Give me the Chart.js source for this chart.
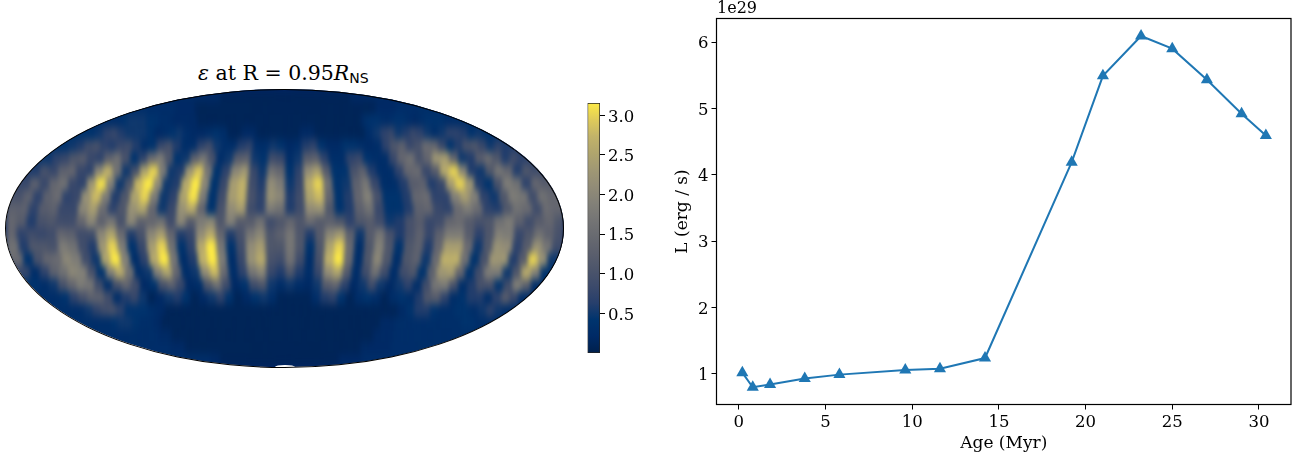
<!DOCTYPE html>
<html>
<head>
<meta charset="utf-8">
<script src="https://cdn.jsdelivr.net/npm/chart.js@4"></script>
<style>
    html, body { margin: 0; padding: 0; background: #fff; width: 1304px; height: 462px; overflow: hidden; }
    canvas { position: absolute; display: block; }
    .txt { position: absolute; font-family: "DejaVu Serif", serif; color: #000; white-space: nowrap; }
    #mapa { position: absolute; left: 5.5px; top: 89px; width: 558px; height: 278px; border-radius: 50%; overflow: hidden; background: #00246a; }
    #mapaCanvas { left: 0; top: 0; filter: url(#suave); }
    #agujero { position: absolute; left: 275px; top: 364.5px; width: 20px; height: 4px; border-radius: 50%; background: #fff; }
    #borde { position: absolute; left: 5px; top: 88.5px; width: 557px; height: 277px; border: 1px solid #000; border-radius: 50%; }
    #titulo { left: 198px; top: 61px; font-size: 20.5px; }
    #titulo sub { font-family: "DejaVu Sans", sans-serif; font-size: 14px; vertical-align: -3px; line-height: 0; }
    #potencia { left: 717px; top: -2px; font-size: 16px; }
</style>
</head>
<body>
<svg width="0" height="0" style="position:absolute">
    <filter id="suave" x="-5%" y="-5%" width="110%" height="110%" color-interpolation-filters="sRGB">
        <feGaussianBlur stdDeviation="2 4.5"/>
    </filter>
</svg>
<div id="mapa"><canvas id="mapaCanvas" width="558" height="278"></canvas></div>
<div id="agujero"></div>
<div id="borde"></div>
<div id="titulo" class="txt"><i>ε</i> at R = 0.95<i>R</i><sub>NS</sub></div>
<canvas id="barraCanvas" width="70" height="462" style="left:580px;top:0"></canvas>
<canvas id="lineaCanvas" width="652" height="462" style="left:652px;top:0"></canvas>
<div id="potencia" class="txt">1e29</div>

<script>
// Luminosity curve (right panel)
const ages = [0.2, 0.8, 1.8, 3.8, 5.8, 9.6, 11.6, 14.2, 19.2, 21, 23.2, 25, 27, 29, 30.4];
const luminosity = [1.02, 0.80, 0.84, 0.93, 0.99, 1.06, 1.08, 1.24, 4.19, 5.49, 6.09, 5.90, 5.43, 4.92, 4.59];
const ageTicks = [0, 5, 10, 15, 20, 25, 30];
const lumTicks = [1, 2, 3, 4, 5, 6];
const colorbarTicks = [0.5, 1.0, 1.5, 2.0, 2.5, 3.0];
const colorbarRange = [0, 3.155];

// cividis
const cividis = ["#00204c", "#002a66", "#00346e", "#273f6c", "#3c4a6b", "#4c556b", "#5b5f6d", "#686a70",
    "#757575", "#838178", "#928c77", "#a09874", "#b0a56d", "#c2b369", "#dfcb5a", "#fdea45"];

// epsilon, in tenths. One row per latitude band (top to bottom), 56 longitude columns
const epsilonRows = [
    [2,2,2,2,2,2,1,1,1,1, 1,1,1,1,1,1,1,1,1,1, 1,1,1,1,1,1,1,1,1,1, 1,1,1,1,1,1,1,1,1,1, 1,1,1,1,1,1,1,1,1,1, 2,2,2,2,2,2],
    [3,3,3,3,3,3,2,2,2,2, 1,1,1,1,1,1,1,1,1,1, 1,1,1,1,1,1,1,1,1,1, 1,1,1,1,1,1,1,1,1,1, 1,1,1,1,1,1,2,2,2,2, 3,3,3,3,3,3],
    [3,3,4,5,5,5,4,4,3,3, 2,2,2,2,1,1,1,1,1,1, 1,1,1,1,1,1,1,1,1,1, 1,1,1,1,1,1,1,1,1,1, 3,4,4,3,3,4,4,3,2,3, 4,4,4,3,3,3],
    [4,4,5,7,8,6,5,5,5,4, 2,3,4,5,3,2,2,3,4,3, 1,1,2,2,1,1,1,1,1,1, 2,2,1,1,1,1,1,1,1,3, 5,7,8,5,6,8,7,5,3,5, 7,7,6,4,5,4],
    [4,5,6,9,10,7,6,8,9,6, 3,4,8,10,6,3,3,7,9,5, 3,3,6,7,3,3,5,4,2,3, 6,7,4,2,2,4,4,3,2,3, 7,11,13,8,10,15,14,8,4,6, 10,11,8,5,7,6],
    [5,7,8,11,12,8,7,13,16,10, 4,7,15,18,11,4,5,13,17,10, 3,5,12,13,5,4,9,8,3,5, 12,13,7,3,3,7,8,4,3,3, 8,14,16,10,14,23,24,14,5,6, 12,15,11,6,9,7],
    [6,10,8,13,14,8,7,20,27,16, 5,10,25,30,18,5,6,23,29,17, 4,7,20,23,8,5,16,14,4,7, 21,24,12,4,4,10,13,6,3,3, 7,14,15,8,12,26,30,20,6,5, 11,17,14,6,11,9],
    [8,13,8,14,16,8,7,23,31,19, 5,11,28,33,21,5,6,26,33,20, 4,8,24,27,9,6,21,18,5,8, 26,30,16,4,5,13,17,8,3,3, 6,12,13,6,8,24,30,23,6,4, 10,18,16,7,14,12],
    [10,13,7,13,15,7,8,22,28,18, 6,11,25,30,18,5,7,25,31,18, 4,9,24,27,10,7,22,20,6,9, 25,28,14,4,6,14,19,10,4,4, 6,14,15,7,7,19,24,19,7,5, 11,18,17,9,16,14],
    [13,13,7,12,13,8,8,20,24,15, 7,11,22,25,14,5,8,22,26,14, 4,10,21,24,9,7,18,16,6,9, 21,22,11,4,6,13,16,8,4,4, 6,13,14,8,7,15,18,15,7,6, 11,16,15,9,15,14],
    [14,12,6,10,11,9,9,14,20,13, 17,10,20,13,14,16,9,20,12,18, 20,11,19,12,12,16,9,11,14,11, 15,12,13,11,7,11,12,9,5,6, 10,12,8,9,14,15,12,10,11,16, 18,13,9,12,14,11],
    [14,7,9,8,9,14,13,9,9,20, 25,15,6,10,20,24,14,6,8,21, 26,14,6,10,17,20,11,13,17,11, 6,12,20,23,13,5,12,17,10,6, 10,13,8,13,18,18,12,7,11,19, 18,8,11,16,13,10],
    [16,6,11,11,10,18,16,9,6,23, 30,18,4,8,24,30,16,4,7,26, 33,17,4,9,21,24,11,11,17,11, 4,11,25,30,15,3,11,19,11,4, 11,13,6,14,24,24,15,5,11,22, 21,7,12,22,17,9],
    [15,4,10,14,15,20,18,9,5,25, 33,19,3,7,26,33,17,3,6,27, 35,18,3,8,22,26,10,9,16,9, 3,10,27,32,15,3,11,20,11,3, 11,13,5,15,27,27,16,4,10,23, 23,6,12,30,22,5],
    [8,3,7,13,16,20,19,10,4,19, 26,16,3,5,19,25,14,3,5,21, 28,15,3,7,17,20,8,6,11,6, 3,8,21,25,12,3,9,16,9,3, 9,11,4,13,23,24,14,4,9,18, 18,5,11,26,19,4],
    [4,3,5,10,14,18,17,9,3,10, 14,9,2,4,10,13,8,2,3,11, 16,9,2,4,9,11,5,3,5,3, 2,5,12,14,7,2,5,9,5,2, 5,7,3,9,17,18,10,3,6,10, 10,4,9,19,13,3],
    [3,3,4,7,10,13,13,9,3,6, 8,5,1,2,5,6,4,1,2,5, 7,4,1,2,4,5,3,1,1,1, 1,3,6,7,4,1,3,4,3,1, 3,4,3,6,11,12,7,3,4,6, 6,3,7,12,8,3],
    [3,3,3,5,7,9,10,7,4,4, 4,3,2,1,1,1,1,1,1,1, 1,1,1,1,1,1,1,1,1,1, 1,1,1,1,1,1,1,1,1,1, 1,1,2,4,6,6,4,3,3,4, 4,3,5,7,5,3],
    [3,3,3,3,4,5,5,4,3,3, 2,1,1,1,1,1,1,1,1,1, 1,1,1,1,1,1,1,1,1,1, 1,1,1,1,1,1,1,1,1,1, 1,2,2,3,3,3,3,3,3,3, 3,3,4,4,3,3],
    [3,3,3,3,3,3,3,3,2,2, 1,1,1,1,1,1,1,1,1,1, 1,1,1,1,1,1,1,1,1,1, 1,1,1,1,1,1,1,1,1,1, 1,1,2,2,2,3,3,3,3,3, 3,3,3,3,3,3],
    [3,3,3,3,3,2,2,2,1,1, 1,1,1,1,1,1,1,1,1,1, 1,1,1,1,1,1,1,1,1,1, 1,1,1,1,1,1,1,1,1,1, 1,1,1,2,2,2,2,2,2,3, 3,3,3,3,3,3],
    [3,3,3,2,2,2,1,1,1,1, 1,1,1,1,1,1,1,1,1,1, 1,1,1,1,1,1,1,1,1,1, 1,1,1,1,1,1,1,1,1,1, 1,1,1,1,1,1,2,2,2,2, 2,2,2,2,3,3]
];

Chart.defaults.animation = false;
Chart.defaults.color = "#000";
Chart.defaults.font.family = "'DejaVu Serif', serif";
Chart.defaults.font.size = 16.5;
Chart.defaults.plugins.legend.display = false;
Chart.defaults.plugins.tooltip.enabled = false;

// blank first line plus a tiny line height moves a y tick label 2px down, to sit level with its tick
const fuenteEjeY = { size: 16.5, lineHeight: "4px" };

function hexARgb(hex) {
    return [1, 3, 5].map(i => parseInt(hex.substr(i, 2), 16));
}

function colorDeValor(valor) {
    let t = Math.min(Math.max(valor / colorbarRange[1], 0), 1) * (cividis.length - 1);
    let i = Math.min(Math.floor(t), cividis.length - 2);
    let a = hexARgb(cividis[i]);
    let b = hexARgb(cividis[i + 1]);
    let c = a.map((v, k) => Math.round(v + (b[k] - v) * (t - i)));
    return `rgb(${c[0]},${c[1]},${c[2]})`;
}

// MAPA: each row is a band of the Mollweide ellipse, so its width depends on its height
function datasetsDelMapa() {
    const nFilas = epsilonRows.length;
    const nCols = epsilonRows[0].length;
    const datasets = [];
    for (let c = 0; c < nCols; c++) {
        const celdas = [];
        const colores = [];
        for (let f = 0; f < nFilas; f++) {
            let yNorm = 1 - (2 * f + 1) / nFilas;
            let ancho = Math.sqrt(1 - yNorm * yNorm);
            let izq = c == 0 ? -1.02 : ancho * (-1 + 2 * c / nCols);
            let der = c == nCols - 1 ? 1.02 : ancho * (-1 + 2 * (c + 1) / nCols);
            celdas.push([izq, der]);
            colores.push(colorDeValor(epsilonRows[f][c] / 10));
        }
        datasets.push({
            data: celdas,
            backgroundColor: colores,
            borderColor: colores,
            borderWidth: 0.5,
            borderSkipped: false,
            barPercentage: 1,
            categoryPercentage: 1,
            grouped: false
        });
    }
    return datasets;
}

new Chart(document.getElementById("mapaCanvas"), {
    type: "bar",
    data: { labels: epsilonRows.map((fila, i) => i), datasets: datasetsDelMapa() },
    options: {
        indexAxis: "y",
        responsive: false,
        layout: { padding: 0 },
        scales: {
            x: { type: "linear", min: -1, max: 1, display: false },
            y: { type: "category", display: false }
        }
    }
});

// BARRA DE COLOR
function gradienteBarra(context) {
    const area = context.chart.chartArea;
    if (!area) {
        return cividis[0];
    }
    const g = context.chart.ctx.createLinearGradient(0, area.bottom, 0, area.top);
    cividis.forEach((color, i) => g.addColorStop(i / (cividis.length - 1), color));
    return g;
}

new Chart(document.getElementById("barraCanvas"), {
    type: "bar",
    data: {
        labels: ["epsilon"],
        datasets: [{
            data: [colorbarRange],
            backgroundColor: gradienteBarra,
            borderColor: "#222",
            borderWidth: 1,
            borderSkipped: false,
            barPercentage: 1,
            categoryPercentage: 1
        }]
    },
    options: {
        responsive: false,
        layout: { padding: { left: 7.5, top: 103, bottom: 109, right: 0 } },
        scales: {
            x: { display: false },
            y: {
                position: "right",
                min: colorbarRange[0],
                max: colorbarRange[1],
                afterFit: s => { s.width = 50; },
                afterBuildTicks: s => { s.ticks = colorbarTicks.map(v => ({ value: v })); },
                border: { display: false },
                grid: { drawOnChartArea: false, tickLength: 5, tickColor: "#000" },
                ticks: { padding: 3, font: fuenteEjeY, callback: v => ["", v.toFixed(1)] }
            }
        }
    }
});

// CURVA DE LUMINOSIDAD
const marco = {
    id: "marco",
    afterDatasetsDraw(chart) {
        const a = chart.chartArea;
        const ctx = chart.ctx;
        ctx.save();
        ctx.strokeStyle = "#000";
        ctx.lineWidth = 1.2;
        ctx.strokeRect(a.left, a.top, a.right - a.left, a.bottom - a.top);
        ctx.restore();
    }
};

new Chart(document.getElementById("lineaCanvas"), {
    type: "scatter",
    data: {
        datasets: [{
            data: ages.map((x, i) => ({ x: x, y: luminosity[i] })),
            showLine: true,
            borderColor: "#1f77b4",
            backgroundColor: "#1f77b4",
            borderWidth: 2,
            pointStyle: "triangle",
            pointRadius: 7,
            pointBorderWidth: 0,
            clip: false
        }]
    },
    options: {
        responsive: false,
        layout: { padding: { left: 0, top: 18.5, right: 13, bottom: 0 } },
        scales: {
            x: {
                type: "linear",
                min: -1.29,
                max: 31.85,
                afterFit: s => { s.height = 57.5; },
                afterBuildTicks: s => { s.ticks = ageTicks.map(v => ({ value: v })); },
                border: { display: false },
                grid: { drawOnChartArea: false, tickLength: 5, tickColor: "#000" },
                ticks: { padding: 3, maxRotation: 0 },
                title: { display: true, text: "Age (Myr)", font: { size: 17 }, padding: { top: 0, bottom: 8 } }
            },
            y: {
                min: 0.54,
                max: 6.354,
                afterFit: s => { s.width = 64.5; },
                afterBuildTicks: s => { s.ticks = lumTicks.map(v => ({ value: v })); },
                border: { display: false },
                grid: { drawOnChartArea: false, tickLength: 5, tickColor: "#000" },
                ticks: { padding: 3, font: fuenteEjeY, callback: v => ["", v] },
                title: { display: true, text: "L (erg / s)", font: { size: 17 }, padding: { top: 20, bottom: 0 } }
            }
        }
    },
    plugins: [marco]
});
</script>
</body>
</html>
